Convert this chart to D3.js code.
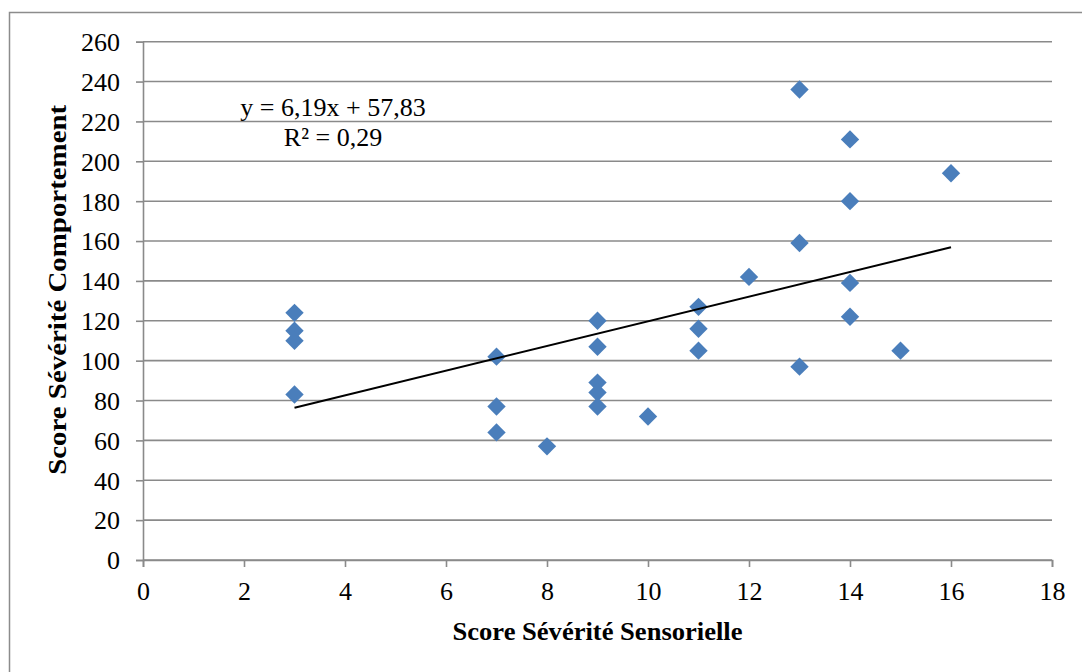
<!DOCTYPE html>
<html>
<head>
<meta charset="utf-8">
<script src="https://cdn.jsdelivr.net/npm/d3@7"></script>
<style>
  html, body { margin: 0; padding: 0; background: #fff; }
  svg { display: block; }
  text { font-family: "Liberation Serif", "Times New Roman", serif; fill: #000; }
</style>
</head>
<body>
<svg id="chart" width="1082" height="672"></svg>
<script>
// Data
const sensoryScores   = [3, 3, 3, 3, 7, 7, 7, 8, 9, 9, 9, 9, 9, 10, 11, 11, 11, 12, 13, 13, 13, 14, 14, 14, 14, 15, 16];
const behaviourScores = [124, 115, 110, 83, 102, 77, 64, 57, 120, 107, 89, 84, 77, 72, 127, 116, 105, 142, 236, 159, 97, 211, 180, 139, 122, 105, 194];
const xTicks = [0, 2, 4, 6, 8, 10, 12, 14, 16, 18];
const yTicks = [0, 20, 40, 60, 80, 100, 120, 140, 160, 180, 200, 220, 240, 260];
const trendSlope = 6.19;
const trendIntercept = 57.83;
const equationLines = ["y = 6,19x + 57,83", "R² = 0,29"];
const xTitle = "Score Sévérité Sensorielle";
const yTitle = "Score Sévérité Comportement";

const svg = d3.select("#chart");
const mLeft = 143, mRight = 1052, mTop = 41.7, mBottom = 560;
const serif = '"Liberation Serif", "Times New Roman", serif';

// outer frame
svg.append("rect").attr("x", 9.5).attr("y", 12.5).attr("width", 1090).attr("height", 700)
  .attr("fill", "none").attr("stroke", "#8c8c8c").attr("stroke-width", 1.5);

const x = d3.scaleLinear().domain([0, 18]).range([mLeft, mRight]);
const y = d3.scaleLinear().domain([0, 260]).range([mBottom, mTop]);

const gridColor = "#8a8a8a";

// horizontal gridlines
svg.append("g").selectAll("line").data(yTicks).join("line")
  .attr("x1", mLeft).attr("x2", mRight)
  .attr("y1", d => y(d)).attr("y2", d => y(d))
  .attr("stroke", gridColor).attr("stroke-width", 1.6);

// y axis
const yAxis = svg.append("g").attr("transform", `translate(${mLeft},0)`)
  .call(d3.axisLeft(y).tickValues(yTicks).tickSize(7).tickPadding(16).tickFormat(d3.format("d")));
yAxis.attr("font-family", null);
yAxis.select(".domain").attr("stroke", gridColor).attr("stroke-width", 1.6);
yAxis.selectAll(".tick line").attr("stroke", gridColor).attr("stroke-width", 1.6);
yAxis.selectAll("text").style("font-family", serif).style("font-size", "26px").attr("fill", "#000").attr("dy", "0.34em");

// x axis
const xAxis = svg.append("g").attr("transform", `translate(0,${mBottom})`)
  .call(d3.axisBottom(x).tickValues(xTicks).tickSize(7).tickPadding(15).tickFormat(d3.format("d")));
xAxis.attr("font-family", null);
xAxis.select(".domain").attr("stroke", gridColor).attr("stroke-width", 1.6);
xAxis.selectAll(".tick line").attr("stroke", gridColor).attr("stroke-width", 1.6);
xAxis.selectAll("text").style("font-family", serif).style("font-size", "26px").attr("fill", "#000");

// points
const diamond = d3.symbol().type(d3.symbolDiamond2).size(215);
svg.append("g").selectAll("path").data(sensoryScores.map((s, i) => [s, behaviourScores[i]])).join("path")
  .attr("d", diamond)
  .attr("transform", d => `translate(${x(d[0])},${y(d[1])})`)
  .attr("fill", "#4a7ebb");

// trendline
const xExt = d3.extent(sensoryScores);
svg.append("line")
  .attr("x1", x(xExt[0])).attr("y1", y(trendSlope * xExt[0] + trendIntercept))
  .attr("x2", x(xExt[1])).attr("y2", y(trendSlope * xExt[1] + trendIntercept))
  .attr("stroke", "#000").attr("stroke-width", 2);

// equation label
svg.append("text").attr("x", 333).attr("y", 116).attr("text-anchor", "middle")
  .style("font-family", serif).style("font-size", "26px").text(equationLines[0]);
svg.append("text").attr("x", 333).attr("y", 146).attr("text-anchor", "middle")
  .style("font-family", serif).style("font-size", "26px").text(equationLines[1]);

// axis titles
svg.append("text").attr("x", (mLeft + mRight) / 2).attr("y", 640).attr("text-anchor", "middle")
  .attr("textLength", 290).attr("lengthAdjust", "spacingAndGlyphs")
  .style("font-family", serif).style("font-size", "25px").style("font-weight", "bold").text(xTitle);
svg.append("text").attr("transform", `translate(66,${(mTop + mBottom) / 2 - 11}) rotate(-90)`).attr("text-anchor", "middle")
  .attr("textLength", 370).attr("lengthAdjust", "spacingAndGlyphs")
  .style("font-family", serif).style("font-size", "25px").style("font-weight", "bold").text(yTitle);
</script>
</body>
</html>
